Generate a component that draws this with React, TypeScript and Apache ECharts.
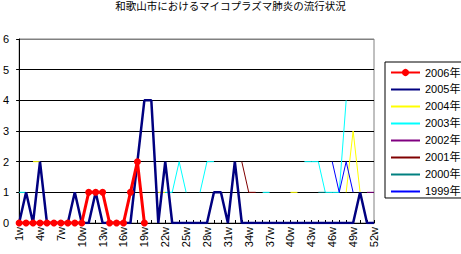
import React, { useEffect, useRef } from "react";
import * as echarts from "echarts";

const N = null;
const weeks: string[] = Array.from({ length: 52 }, (_, i) => `${i + 1}w`);
const yTicks = [0, 1, 2, 3, 4, 5, 6];

const s2006 = [0, 0, 0, 0, 0, 0, 0, 0, 0, 0, 1, 1, 1, 0, 0, 0, 1, 2, 0];
const s2005 = [
  0, 1, 0, 2, 0, 0, 0, 0, 1, 0,
  0, 1, 0, 0, 0, 0, 0, 2, 4, 4,
  0, 2, 0, 0, 0, 0, 0, 0, 1, 1,
  0, 2, 0, 0, 0, 0, 0, 0, 0, 0,
  0, 0, 0, 0, 0, 0, 0, 0, 0, 1,
  0, 0,
];
const s2004 = [
  N, N, 2, 2, N, N, N, N, N, N,
  N, N, N, N, N, N, N, N, N, N,
  1, 1, N, N, N, N, N, N, N, N,
  N, N, N, N, N, N, N, N, N, 1,
  1, N, N, N, N, N, N, 1, 3, 1,
  N, N,
];
const s2003 = [
  1, 1, N, N, N, N, N, N, N, N,
  N, N, N, N, N, N, N, N, N, N,
  N, 1, 1, 2, 1, N, 1, 2, 2, N,
  N, N, N, N, N, 1, 1, N, N, N,
  N, 2, 2, 2, 1, 1, 1, 4, N, N,
  N, N,
];
const s2002 = [
  N, N, N, N, N, N, N, N, N, N,
  N, N, N, N, N, N, N, N, N, N,
  N, N, N, N, N, N, N, N, N, N,
  N, N, N, N, N, N, N, N, N, N,
  N, N, N, N, N, N, N, N, N, N,
  1, 1,
];
const s2001 = [
  N, N, N, N, N, N, N, N, N, N,
  N, N, N, N, N, N, N, N, N, N,
  N, N, N, N, N, N, N, N, N, N,
  N, N, 2, 1, 1, N, N, N, N, N,
  N, N, N, N, N, N, N, N, N, N,
  N, N,
];
const s2000 = [
  N, N, N, N, N, N, N, N, N, N,
  N, N, N, N, N, N, N, N, N, N,
  N, N, N, N, N, N, N, N, N, N,
  N, N, N, N, N, N, N, N, N, N,
  N, N, N, 1, 1, N, N, N, N, N,
  N, N,
];
const s1999 = [
  N, N, N, N, N, N, N, N, N, N,
  N, N, N, N, N, N, N, N, N, N,
  N, N, N, N, N, N, N, N, N, N,
  N, N, N, N, N, N, N, N, N, N,
  N, N, N, N, N, 2, 1, 2, 1, N,
  N, N,
];

const seriesNames = ["2006年", "2005年", "2004年", "2003年", "2002年", "2001年", "2000年", "1999年"];
const seriesData = [s2006, s2005, s2004, s2003, s2002, s2001, s2000, s1999];
const colors = ["#FF0000", "#000080", "#FFFF00", "#00FFFF", "#800080", "#800000", "#008080", "#0000FF"];

const FONT = "'Liberation Sans', 'Noto Sans CJK JP', sans-serif";

export default function App() {
  const ref = useRef<HTMLDivElement>(null);
  useEffect(() => {
    if (!ref.current) return;
    const chart = echarts.init(ref.current, null, { renderer: "svg" });
    const series: any[] = seriesNames.map((name, i) => {
      const isRed = i === 0;
      const isNavy = i === 1;
      return {
        name,
        type: "line",
        data: seriesData[i],
        connectNulls: false,
        symbol: isRed ? "circle" : "line",
        symbolSize: isRed ? 7 : 1,
        showSymbol: isRed,
        showAllSymbol: true,
        z: isRed ? 10 : isNavy ? 9 : 5,
        itemStyle: { color: colors[i] },
        lineStyle: { color: colors[i], width: isRed ? 3 : isNavy ? 2.5 : 1 },
        emphasis: { disabled: true },
      };
    });
    chart.setOption({
      animation: false,
      textStyle: { fontFamily: FONT },
      title: {
        text: "和歌山市におけるマイコプラズマ肺炎の流行状況",
        left: "center",
        top: 1,
        padding: 0,
        textStyle: { fontSize: 10.5, fontWeight: "normal", color: "#000", fontFamily: FONT },
      },
      legend: {
        orient: "vertical",
        left: 385,
        top: 62,
        padding: [5, 3, 1, 5],
        itemWidth: 29,
        itemHeight: 9,
        itemGap: 6,
        borderColor: "#000",
        borderWidth: 1,
        backgroundColor: "#fff",
        data: seriesNames,
        textStyle: { fontSize: 11, color: "#000", fontFamily: FONT },
      },
      grid: {
        left: 17,
        right: 87,
        top: 39,
        bottom: 31,
        show: true,
        borderColor: "#808080",
        borderWidth: 1,
        backgroundColor: "transparent",
      },
      xAxis: {
        type: "category",
        data: weeks,
        boundaryGap: false,
        axisLine: { lineStyle: { color: "#000", width: 1 } },
        axisTick: { inside: true, length: 3, interval: 0, lineStyle: { color: "#000" } },
        axisLabel: { interval: 2, rotate: 90, fontSize: 11, color: "#000", margin: 4, fontFamily: FONT },
        splitLine: { show: false },
      },
      yAxis: {
        type: "value",
        min: 0,
        max: 6,
        interval: 1,
        axisLine: { show: true, lineStyle: { color: "#000", width: 1 } },
        axisTick: { show: true, length: 3, lineStyle: { color: "#000" } },
        axisLabel: {
          fontSize: 11,
          color: "#000",
          margin: 10,
          fontFamily: FONT,
          formatter: (v: number) => (yTicks.includes(v) ? String(v) : ""),
        },
        splitLine: {
          show: true,
          lineStyle: { color: ["#000", "#000", "#000", "#000", "#000", "#000", "#808080"], width: 1 },
        },
      },
      series,
    });
    return () => chart.dispose();
  }, []);
  return (
    <div
      ref={ref}
      style={{ position: "fixed", left: 0, top: 0, width: 461, height: 254, background: "#fff" }}
    />
  );
}
